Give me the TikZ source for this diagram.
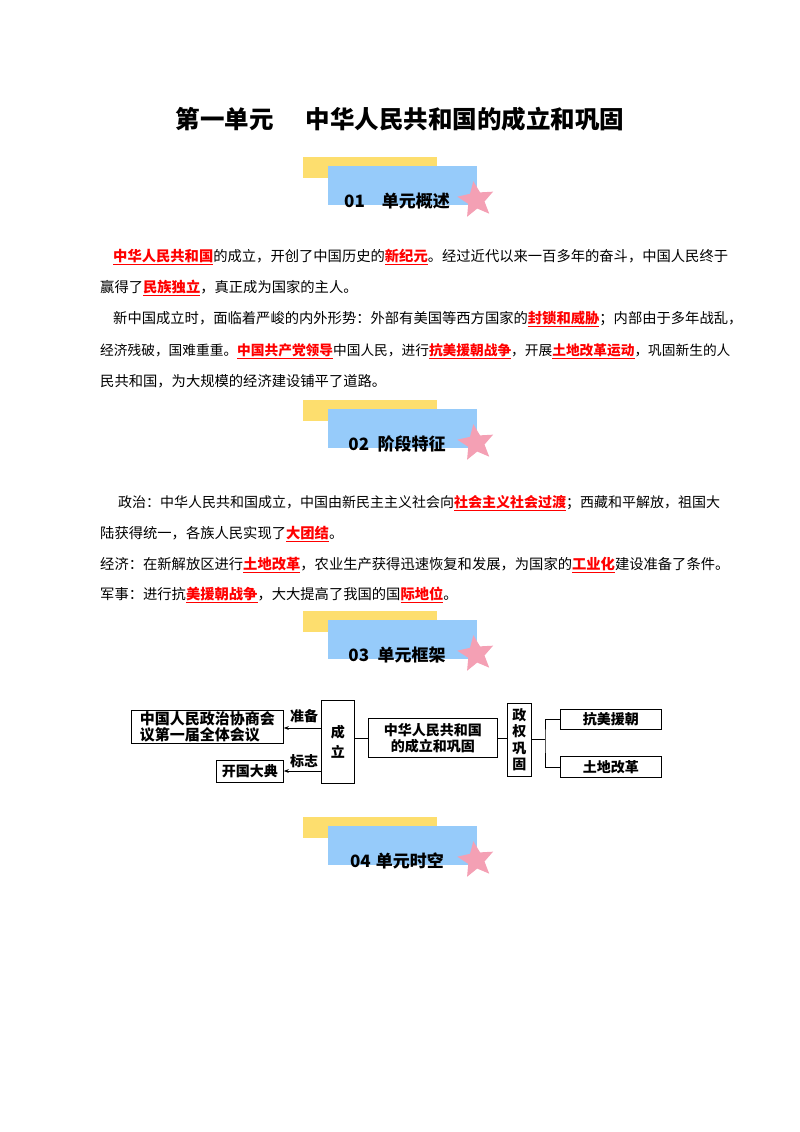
\documentclass[tikz,border=0pt]{standalone}
\usepackage{fontspec}
\setmainfont{Noto Sans CJK SC}
\usetikzlibrary{shapes.geometric,arrows.meta}
\definecolor{yel}{RGB}{253,222,110}
\definecolor{blu}{RGB}{150,203,250}
\definecolor{pnk}{RGB}{244,160,180}
\newcommand{\hl}[1]{\textcolor{red}{\textbf{\underline{#1}}}}
\begin{document}
\begin{tikzpicture}[x=1pt,y=-1pt,
 line/.style={anchor=base west,inner sep=0,font=\fontsize{14.3}{14}\selectfont},
 bx/.style={draw,thick,inner sep=1pt,font=\fontsize{14}{16}\selectfont\bfseries,align=left},
 lab/.style={font=\fontsize{14}{15}\selectfont\bfseries,inner sep=0}]
\useasboundingbox (0,0) rectangle (800,1132);
\node[anchor=base,font=\fontsize{24.5}{24}\selectfont\bfseries] (title) at (400,128) {第一单元\hspace{1.3em}中华人民共和国的成立和巩固};
\foreach \Y/\t/\n in {157/01\hspace{1em}单元概述/a,400/02\hspace{0.5em}阶段特征/b,611/03\hspace{0.5em}单元框架/c,817/04\hspace{0.3em}单元时空/d}{
 \fill[yel] (303,\Y) rectangle (437,\Y+21);
 \fill[blu] (328,\Y+9) rectangle (477,\Y+48);
 \node[star,star points=5,star point ratio=2.2,fill=pnk,minimum size=38,inner sep=0,rotate=8] (s\n) at (476,\Y+43) {};
 \node[anchor=base,font=\fontsize{17}{17}\selectfont\bfseries,inner sep=0] (h\n) at (397,\Y+50) {\t};
}
\node[line] (p1) at (113,261) {\hl{中华人民共和国}的成立，开创了中国历史的\hl{新纪元}。经过近代以来一百多年的奋斗，中国人民终于};
\node[line] (p2) at (100,292) {赢得了\hl{民族独立}，真正成为国家的主人。};
\node[line] (p3) at (113,323) {新中国成立时，面临着严峻的内外形势：外部有美国等西方国家的\hl{封锁和威胁}；内部由于多年战乱，};
\node[line,font=\fontsize{13.7}{14}\selectfont] (p4) at (100,355) {经济残破，国难重重。\hl{中国共产党领导}中国人民，进行\hl{抗美援朝战争}，开展\hl{土地改革运动}，巩固新生的人};
\node[line] (p5) at (100,386) {民共和国，为大规模的经济建设铺平了道路。};
\node[line,font=\fontsize{14}{14}\selectfont] (q1) at (118,507) {政治：中华人民共和国成立，中国由新民主主义社会向\hl{社会主义社会过渡}；西藏和平解放，祖国大};
\node[line] (q2) at (100,538) {陆获得统一，各族人民实现了\hl{大团结}。};
\node[line] (q3) at (100,569) {经济：在新解放区进行\hl{土地改革}，农业生产获得迅速恢复和发展，为国家的\hl{工业化}建设准备了条件。};
\node[line] (q4) at (100,599) {军事：进行抗\hl{美援朝战争}，大大提高了我国的国\hl{际地位}。};
% framework
\node[bx,minimum width=152,minimum height=33,anchor=north west,font=\fontsize{15}{16}\selectfont\bfseries] (zx) at (131,710) {中国人民政治协商会\\议第一届全体会议};
\node[bx,minimum width=67,minimum height=22,anchor=north west] (kg) at (216,760) {开国大典};
\node[bx,minimum width=33,minimum height=83,anchor=north west,align=center] (cl) at (321,700) {成\\[4pt]立};
\node[bx,minimum width=129,minimum height=39,anchor=north west,align=center] (zh) at (368,718) {中华人民共和国\\的成立和巩固};
\node[bx,minimum width=24,minimum height=73,anchor=north west,align=center,font=\fontsize{14}{16.5}\selectfont\bfseries] (zq) at (507,703) {政\\权\\巩\\固};
\node[bx,minimum width=101,minimum height=20,anchor=north west] (km) at (560,709) {抗美援朝};
\node[bx,minimum width=101,minimum height=21,anchor=north west] (td) at (560,756) {土地改革};
\draw[thick,-{Stealth[length=5pt]}] (cl.west |- 0,728) -- (zx.east |- 0,728);
\draw[thick,-{Stealth[length=5pt]}] (cl.west |- 0,771) -- (kg.east |- 0,771);
\node[lab] (zb) at (304,716) {准备};
\node[lab] (bz) at (304,761) {标志};
\draw[thick] (cl.east |- zh.west) -- (zh.west);
\draw[thick] (zh.east) -- (zq.west |- zh.east);
\coordinate (br) at (545,739);
\draw[thick] (zq.east |- br) -- (br);
\draw[thick] (km.west) -| (br) |- (td.west);
\end{tikzpicture}
\end{document}
